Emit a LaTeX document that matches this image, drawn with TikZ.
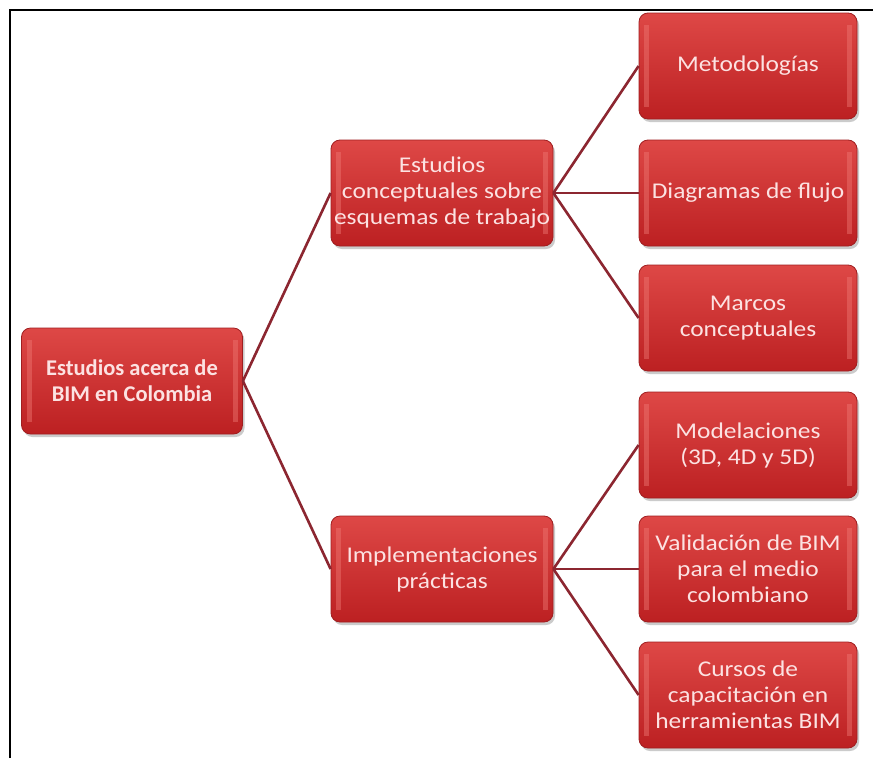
\documentclass[tikz,border=0pt]{standalone}
\usepackage{fontspec}
\setmainfont[FakeStretch=1.13]{Carlito}
\newfontfamily\rootfont{Carlito}
\usetikzlibrary{shadows}
\definecolor{boxtop}{RGB}{222,72,70}
\definecolor{boxbot}{RGB}{188,32,34}
\definecolor{boxedge}{RGB}{160,30,32}
\definecolor{shine}{RGB}{238,120,115}
\definecolor{txt}{RGB}{252,226,226}
\definecolor{link}{RGB}{140,38,48}
\tikzset{
  box/.style={rounded corners=9pt, minimum width=218pt, minimum height=106pt,
    top color=boxtop, bottom color=boxbot, draw=boxedge, line width=0.8pt,
    drop shadow={shadow xshift=2pt, shadow yshift=-3pt, fill=black!45, opacity=0.45},
    path picture={
      \fill[shine, opacity=0.45, sharp corners] ([xshift=5pt,yshift=-12pt]path picture bounding box.north west) rectangle ([xshift=10pt,yshift=12pt]path picture bounding box.south west);
      \fill[shine, opacity=0.45, sharp corners] ([xshift=-10pt,yshift=-12pt]path picture bounding box.north east) rectangle ([xshift=-5pt,yshift=12pt]path picture bounding box.south east);
    },
    text=txt, font=\fontsize{22.5}{26}\selectfont, align=center, inner sep=0pt},
  link/.style={draw=link, line width=2.6pt}
}
\begin{document}
\begin{tikzpicture}[x=1pt,y=-1pt]
\useasboundingbox (0,0) rectangle (873,758);
\fill[white] (0,0) rectangle (873,758);
\draw[black, line width=2.6pt] (10,758) -- (10,10) -- (873,10);
\node[box, minimum width=221pt, font=\rootfont\bfseries\fontsize{22.5}{26}\selectfont] (root) at (132,381) {Estudios acerca de\\BIM en Colombia};
\node[box, minimum width=222pt] (est) at (442,193) {Estudios\\conceptuales sobre\\esquemas de trabajo};
\node[box, minimum width=222pt] (imp) at (442,569) {Implementaciones\\prácticas};
\node[box] (met) at (748,66) {Metodologías};
\node[box] (dia) at (748,193) {Diagramas de flujo};
\node[box] (mar) at (748,318) {Marcos\\conceptuales};
\node[box] (mod) at (748,445) {Modelaciones\\(3D, 4D y 5D)};
\node[box] (val) at (748,569) {Validación de BIM\\para el medio\\colombiano};
\node[box] (cur) at (748,695) {Cursos de\\capacitación en\\herramientas BIM};
\draw[link] (root.east) -- (est.west);
\draw[link] (root.east) -- (imp.west);
\draw[link] (est.east) -- (met.west);
\draw[link] (est.east) -- (dia.west);
\draw[link] (est.east) -- (mar.west);
\draw[link] (imp.east) -- (mod.west);
\draw[link] (imp.east) -- (val.west);
\draw[link] (imp.east) -- (cur.west);
\end{tikzpicture}
\end{document}
